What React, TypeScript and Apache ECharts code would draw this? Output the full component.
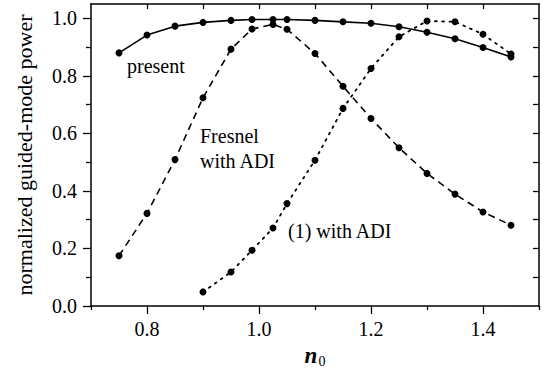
import React, { useEffect, useRef } from "react";
import * as echarts from "echarts";

const nValues = [0.75, 0.8, 0.85, 0.9, 0.95, 0.9875, 1.025, 1.05, 1.1, 1.15, 1.2, 1.25, 1.3, 1.35, 1.4, 1.45];
const presentValues = [0.88, 0.942, 0.973, 0.986, 0.993, 0.996, 0.996, 0.996, 0.993, 0.988, 0.983, 0.971, 0.952, 0.929, 0.899, 0.866];
const fresnelValues = [0.175, 0.322, 0.509, 0.724, 0.893, 0.963, 0.979, 0.962, 0.878, 0.764, 0.652, 0.55, 0.461, 0.389, 0.327, 0.281];
const eq1N = [0.9, 0.95, 0.9875, 1.025, 1.05, 1.1, 1.15, 1.2, 1.25, 1.3, 1.35, 1.4, 1.45];
const eq1Values = [0.049, 0.118, 0.194, 0.271, 0.356, 0.507, 0.687, 0.826, 0.936, 0.991, 0.988, 0.945, 0.876];

const xMajorTicks = [0.8, 1.0, 1.2, 1.4];
const xMinorTicks = [0.7, 0.9, 1.1, 1.3, 1.5];
const xTopTicks = [0.8, 0.9, 1.0, 1.1, 1.2, 1.3, 1.4];
const yMajorTicks = [0, 0.2, 0.4, 0.6, 0.8, 1.0];
const yMinorTicks = [0.1, 0.3, 0.5, 0.7, 0.9];
const yRightTicks = [0.1, 0.2, 0.3, 0.4, 0.5, 0.6, 0.7, 0.8, 0.9, 1.0];

const FONT = "Liberation Serif";

export default function App() {
  const ref = useRef<HTMLDivElement>(null);
  useEffect(() => {
    if (!ref.current) return;
    document.body.style.margin = "0";
    const chart = echarts.init(ref.current, undefined, { renderer: "svg" });
    const line = { show: true, onZero: false, lineStyle: { color: "#000", width: 1.5 } };
    const xBase = { type: "value", min: 0.7, max: 1.5, splitLine: { show: false } };
    const yBase = { type: "value", min: 0, max: 1.05, splitLine: { show: false } };
    const tickStyle = { color: "#000", width: 1.3 };
    const zip = (xs: number[], ys: number[]) => xs.map((x, i) => [x, ys[i]]);
    const txt = (text: string, left: number, top: number) => ({
      type: "text",
      left,
      top,
      style: { text, fontFamily: FONT, fontSize: 20, fill: "#000" },
    });
    chart.setOption({
      animation: false,
      backgroundColor: "#fff",
      textStyle: { fontFamily: FONT },
      grid: { left: 91, right: 11, top: 4, bottom: 75, outerBoundsMode: "none", containLabel: false },
      xAxis: [
        {
          ...xBase,
          position: "bottom",
          axisLine: line,
          axisTick: { show: true, length: 8, customValues: xMajorTicks, lineStyle: tickStyle },
          axisLabel: {
            show: true,
            customValues: xMajorTicks,
            margin: 13,
            color: "#000",
            fontFamily: FONT,
            fontSize: 20,
            formatter: (v: number) => v.toFixed(1),
          },
          name: "{n|n}{s|0}",
          nameLocation: "middle",
          nameGap: 32,
          nameTextStyle: {
            rich: {
              n: { fontFamily: FONT, fontSize: 23, fontStyle: "italic", fontWeight: "bold", color: "#000" },
              s: { fontFamily: FONT, fontSize: 14, color: "#000", padding: [12, 0, 0, 1] },
            },
          },
        },
        {
          ...xBase,
          position: "bottom",
          axisLine: { show: false, onZero: false },
          axisTick: { show: true, length: 4, customValues: xMinorTicks, lineStyle: tickStyle },
          axisLabel: { show: false },
        },
        {
          ...xBase,
          position: "top",
          axisLine: line,
          axisTick: { show: true, inside: true, length: 5, customValues: xTopTicks, lineStyle: tickStyle },
          axisLabel: { show: false },
        },
      ],
      yAxis: [
        {
          ...yBase,
          position: "left",
          axisLine: line,
          axisTick: { show: true, length: 8, customValues: yMajorTicks, lineStyle: tickStyle },
          axisLabel: {
            show: true,
            customValues: yMajorTicks,
            margin: 14,
            color: "#000",
            fontFamily: FONT,
            fontSize: 20,
            formatter: (v: number) => v.toFixed(1),
          },
          name: "normalized guided-mode power",
          nameLocation: "middle",
          nameGap: 56,
          nameTextStyle: { fontFamily: FONT, fontSize: 22, color: "#000" },
        },
        {
          ...yBase,
          position: "left",
          axisLine: { show: false, onZero: false },
          axisTick: { show: true, length: 5, customValues: yMinorTicks, lineStyle: tickStyle },
          axisLabel: { show: false },
        },
        {
          ...yBase,
          position: "right",
          axisLine: line,
          axisTick: { show: true, inside: true, length: 6, customValues: yRightTicks, lineStyle: tickStyle },
          axisLabel: { show: false },
        },
      ],
      series: [
        {
          name: "present",
          type: "line",
          data: zip(nValues, presentValues),
          symbol: "circle",
          symbolSize: 7,
          itemStyle: { color: "#000" },
          lineStyle: { color: "#000", width: 1.6, type: "solid" },
        },
        {
          name: "Fresnel with ADI",
          type: "line",
          data: zip(nValues, fresnelValues),
          symbol: "circle",
          symbolSize: 7,
          itemStyle: { color: "#000" },
          lineStyle: { color: "#000", width: 1.6, type: [7, 5] },
        },
        {
          name: "(1) with ADI",
          type: "line",
          data: zip(eq1N, eq1Values),
          symbol: "circle",
          symbolSize: 7,
          itemStyle: { color: "#000" },
          lineStyle: { color: "#000", width: 1.8, type: [1.8, 5.5], cap: "round" },
        },
      ],
      graphic: [
        txt("present", 127, 56),
        txt("Fresnel", 200, 126),
        txt("with ADI", 200, 151),
        txt("(1) with ADI", 288, 221),
      ],
    });
    return () => chart.dispose();
  }, []);
  return <div ref={ref} style={{ width: 550, height: 381 }} />;
}
